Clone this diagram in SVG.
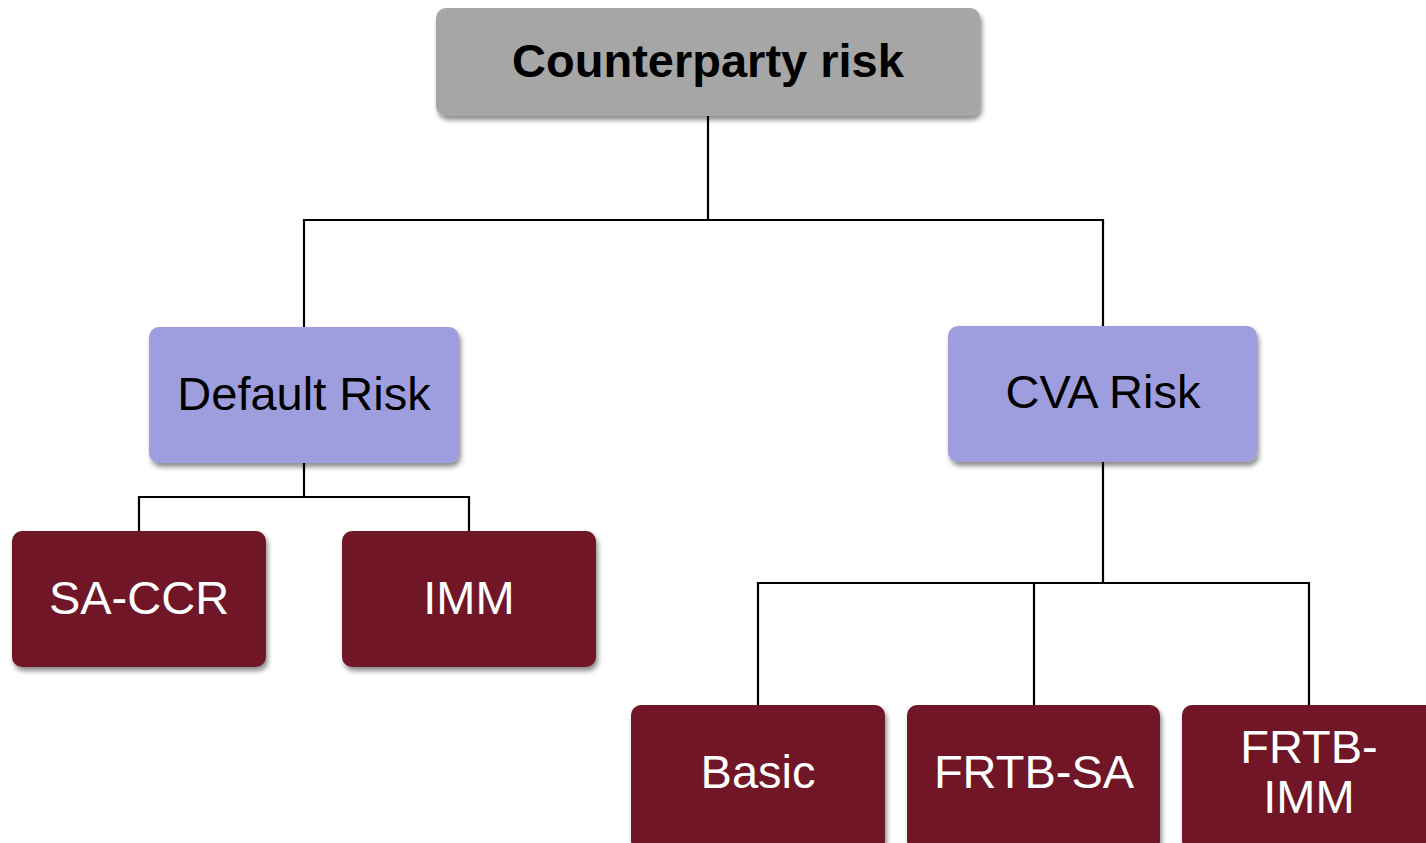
<svg xmlns="http://www.w3.org/2000/svg" width="1426" height="843" viewBox="0 0 1426 843">
<style>
.box{filter:url(#sh)}
.gray{fill:#a6a6a6}
.lav{fill:#9e9ede}
.mar{fill:#701626}
text{font-family:"Liberation Sans",Arial,sans-serif;text-anchor:middle;font-size:47px}
.dark{fill:#000}
.light{fill:#fff}
.conn{stroke:#000;stroke-width:2.2;fill:none}
</style>
<defs>
<filter id="sh" x="-10%" y="-10%" width="120%" height="130%">
<feDropShadow dx="2" dy="4" stdDeviation="2.5" flood-color="#000" flood-opacity="0.45"/>
</filter>
</defs>
<rect width="1426" height="843" fill="#fff"/>
<g id="connectors">
<polyline class="conn" points="708,116 708,220"/>
<polyline class="conn" points="304,327 304,220 1103,220 1103,326"/>
<polyline class="conn" points="304,463 304,497"/>
<polyline class="conn" points="139,531 139,497 469,497 469,531"/>
<polyline class="conn" points="1103,462 1103,583"/>
<polyline class="conn" points="758,705 758,583 1309,583 1309,705"/>
<polyline class="conn" points="1034,583 1034,705"/>
</g>
<g id="counterparty">
<rect class="box gray" x="436" y="8" width="544" height="108" rx="10"/>
<text class="dark" x="708" y="77" font-weight="bold" font-size="47">Counterparty risk</text>
</g>
<g id="default">
<rect class="box lav" x="149" y="327" width="310" height="136" rx="10"/>
<text class="dark" x="304" y="410">Default Risk</text>
</g>
<g id="cva">
<rect class="box lav" x="948" y="326" width="309" height="136" rx="10"/>
<text class="dark" x="1103" y="408">CVA Risk</text>
</g>
<g id="saccr">
<rect class="box mar" x="12" y="531" width="254" height="136" rx="10"/>
<text class="light" x="139" y="614">SA-CCR</text>
</g>
<g id="imm">
<rect class="box mar" x="342" y="531" width="254" height="136" rx="10"/>
<text class="light" x="469" y="614">IMM</text>
</g>
<g id="basic">
<rect class="box mar" x="631" y="705" width="254" height="146" rx="10"/>
<text class="light" x="758" y="788">Basic</text>
</g>
<g id="frtbsa">
<rect class="box mar" x="907" y="705" width="253" height="146" rx="10"/>
<text class="light" x="1034" y="788">FRTB-SA</text>
</g>
<g id="frtbimm">
<rect class="box mar" x="1182" y="705" width="260" height="146" rx="10"/>
<text class="light" x="1309" y="763">FRTB-</text>
<text class="light" x="1309" y="813">IMM</text>
</g>
</svg>
